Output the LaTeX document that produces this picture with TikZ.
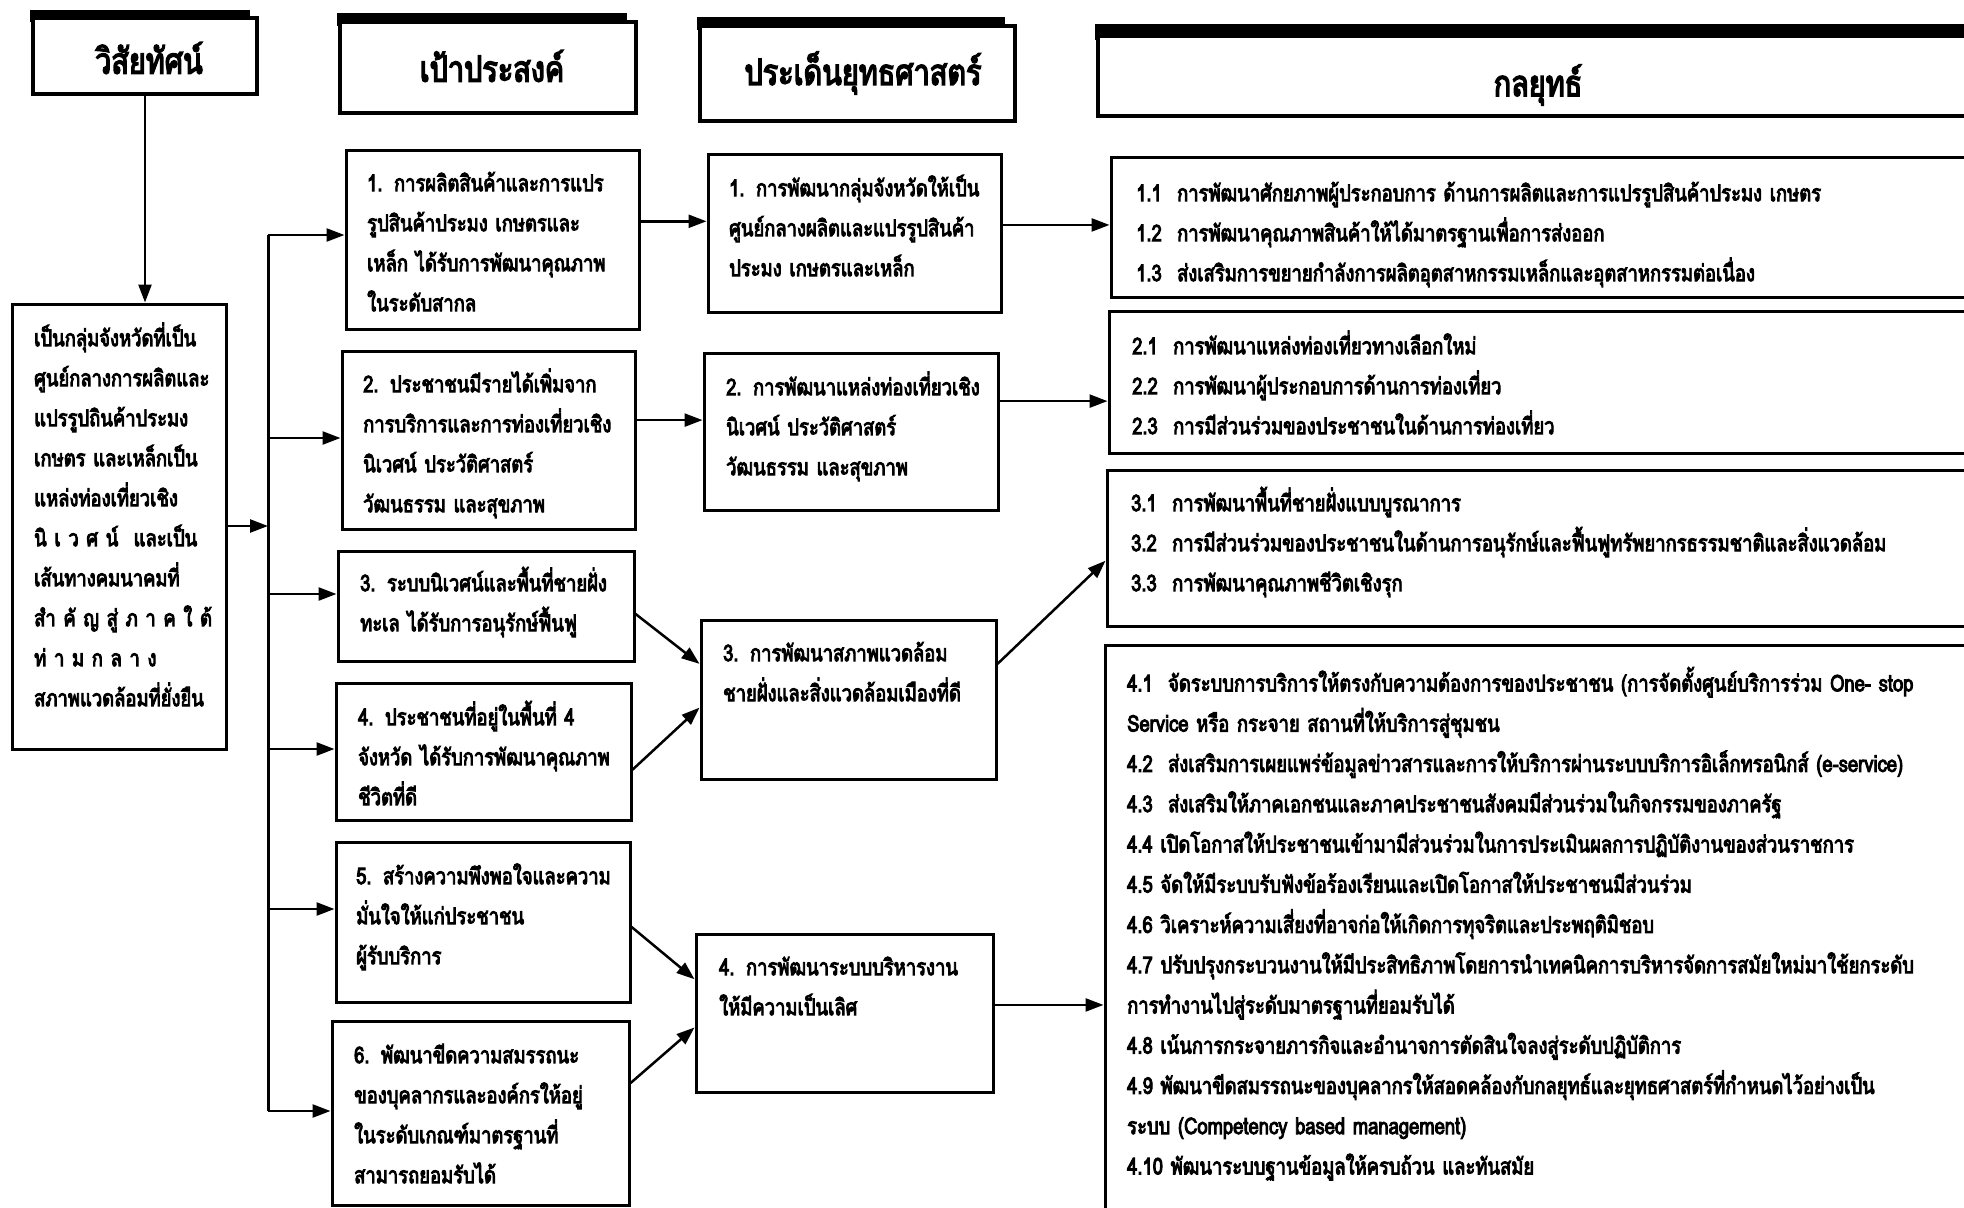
\documentclass[tikz,border=0pt]{standalone}
\usepackage{fontspec}
\usetikzlibrary{arrows.meta,fit,calc}
\newfontfamily\thaifont[Script=Thai,FakeStretch=0.80,FakeBold=4]{Loma}
\newcommand\spreadline[1]{\makebox[\linewidth][s]{#1}}
\begin{document}
\begin{tikzpicture}[x=1pt,y=-1pt,
  box/.style={draw,line width=3pt,inner sep=0pt},
  hdrbox/.style={draw,line width=3.5pt,inner sep=0pt,fill=white},
  hdrbar/.style={fill=black},
  hdrtxt/.style={font=\thaifont\fontsize{36}{40}\selectfont,inner sep=0pt},
  txt/.style={anchor=north west,inner sep=0pt,align=left,text width=900pt,
    font=\thaifont\fontsize{23}{40}\selectfont},
  link/.style={line width=2.5pt,-{Triangle[length=18pt,width=13pt]}},
]
\useasboundingbox (0,0) rectangle (1964,1207);
\clip (0,0) rectangle (1964,1207);

% ---------- column headers ----------
\fill[hdrbar] (30,10) rectangle (250,22);
\node[hdrbox,fit={(33,18) (257,94)}] (h1) {};
\node[hdrtxt] (h1t) at (149,58) {วิสัยทัศน์};

\fill[hdrbar] (337,13) rectangle (627,26);
\node[hdrbox,fit={(340,22) (636,113)}] (h2) {};
\node[hdrtxt] (h2t) at (492,66) {เป้าประสงค์};

\fill[hdrbar] (697,17) rectangle (1005,30);
\node[hdrbox,fit={(700,26) (1015,121)}] (h3) {};
\node[hdrtxt] (h3t) at (863,73) {ประเด็นยุทธศาสตร์};

\fill[hdrbar] (1095,24) rectangle (1980,40);
\node[hdrbox,fit={(1098,36) (1980,116)}] (h4) {};
\node[hdrtxt] (h4t) at (1538,85) {กลยุทธ์};

% ---------- vision ----------
\node[box,fit={(12,304) (226,749)}] (vis) {};
\node[txt,text width=176pt] (vist) at (34,318) {%
\strut เป็นกลุ่มจังหวัดที่เป็น\\
\strut ศูนย์กลางการผลิตและ\\
\strut แปรรูปถินค้าประมง\\
\strut\spreadline{เกษตร และเหล็กเป็น}\\
\strut แหล่งท่องเที่ยวเชิง\\
\strut\spreadline{นิ เ ว ศ น์ \ และเป็น}\\
\strut เส้นทางคมนาคมที่\\
\strut\spreadline{สำ คั ญ สู่ ภ า ค ใ ต้}\\
\strut\spreadline{ท่ า ม ก ล า ง}\\
\strut สภาพแวดล้อมที่ยั่งยืน};

% ---------- goals ----------
\node[box,fit={(346,150) (639,329)}] (g1) {};
\node[txt] (g1t) at (367,163) {\strut 1. การผลิตสินค้าและการแปร\\
\strut รูปสินค้าประมง เกษตรและ\\
\strut เหล็ก ได้รับการพัฒนาคุณภาพ\\
\strut ในระดับสากล};

\node[box,fit={(342,351) (635,529)}] (g2) {};
\node[txt] (g2t) at (363,364) {\strut 2. ประชาชนมีรายได้เพิ่มจาก\\
\strut การบริการและการท่องเที่ยวเชิง\\
\strut นิเวศน์ ประวัติศาสตร์\\
\strut วัฒนธรรม และสุขภาพ};

\node[box,fit={(338,551) (634,661)}] (g3) {};
\node[txt] (g3t) at (360,563) {\strut 3. ระบบนิเวศน์และพื้นที่ชายฝั่ง\\
\strut ทะเล ได้รับการอนุรักษ์ฟื้นฟู};

\node[box,fit={(336,683) (631,820)}] (g4) {};
\node[txt] (g4t) at (358,697) {\strut 4. ประชาชนที่อยู่ในพื้นที่ 4\\
\strut จังหวัด ได้รับการพัฒนาคุณภาพ\\
\strut ชีวิตที่ดี};

\node[box,fit={(336,842) (630,1002)}] (g5) {};
\node[txt] (g5t) at (356,856) {\strut 5. สร้างความพึงพอใจและความ\\
\strut มั่นใจให้แก่ประชาชน\\
\strut ผู้รับบริการ};

\node[box,fit={(332,1021) (629,1205)}] (g6) {};
\node[txt] (g6t) at (354,1035) {\strut 6. พัฒนาขีดความสมรรถนะ\\
\strut ของบุคลากรและองค์กรให้อยู่\\
\strut ในระดับเกณฑ์มาตรฐานที่\\
\strut สามารถยอมรับได้};

% ---------- strategic issues ----------
\node[box,fit={(708,154) (1001,312)}] (s1) {};
\node[txt] (s1t) at (729,168) {\strut 1. การพัฒนากลุ่มจังหวัดให้เป็น\\
\strut ศูนย์กลางผลิตและแปรรูปสินค้า\\
\strut ประมง เกษตรและเหล็ก};

\node[box,fit={(704,353) (998,510)}] (s2) {};
\node[txt] (s2t) at (726,367) {\strut 2. การพัฒนาแหล่งท่องเที่ยวเชิง\\
\strut นิเวศน์ ประวัติศาสตร์\\
\strut วัฒนธรรม และสุขภาพ};

\node[box,fit={(701,620) (996,779)}] (s3) {};
\node[txt] (s3t) at (723,633) {\strut 3. การพัฒนาสภาพแวดล้อม\\
\strut ชายฝั่งและสิ่งแวดล้อมเมืองที่ดี};

\node[box,fit={(696,934) (993,1092)}] (s4) {};
\node[txt] (s4t) at (719,947) {\strut 4. การพัฒนาระบบบริหารงาน\\
\strut ให้มีความเป็นเลิศ};

% ---------- strategies ----------
\node[box,fit={(1111,157) (1980,297)}] (t1) {};
\node[txt] (t1t) at (1136,173) {\strut 1.1\ \ การพัฒนาศักยภาพผู้ประกอบการ ด้านการผลิตและการแปรรูปสินค้าประมง เกษตร\\
\strut 1.2\ \ การพัฒนาคุณภาพสินค้าให้ได้มาตรฐานเพื่อการส่งออก\\
\strut 1.3\ \ ส่งเสริมการขยายกำลังการผลิตอุตสาหกรรมเหล็กและอุตสาหกรรมต่อเนื่อง};

\node[box,fit={(1109,311) (1980,453)}] (t2) {};
\node[txt] (t2t) at (1132,326) {\strut 2.1\ \ การพัฒนาแหล่งท่องเที่ยวทางเลือกใหม่\\
\strut 2.2\ \ การพัฒนาผู้ประกอบการด้านการท่องเที่ยว\\
\strut 2.3\ \ การมีส่วนร่วมของประชาชนในด้านการท่องเที่ยว};

\node[box,fit={(1107,470) (1980,626)}] (t3) {};
\node[txt] (t3t) at (1131,483) {\strut 3.1\ \ การพัฒนาพื้นที่ชายฝั่งแบบบูรณาการ\\
\strut 3.2\ \ การมีส่วนร่วมของประชาชนในด้านการอนุรักษ์และฟื้นฟูทรัพยากรธรรมชาติและสิ่งแวดล้อม\\
\strut 3.3\ \ การพัฒนาคุณภาพชีวิตเชิงรุก};

\node[box,fit={(1105,645) (1980,1220)}] (t4) {};
\node[txt,font=\thaifont\fontsize{23}{40.25}\selectfont] (t4t) at (1127,663) {%
\strut 4.1\ \ จัดระบบการบริการให้ตรงกับความต้องการของประชาชน (การจัดตั้งศูนย์บริการร่วม One- stop\\
\strut Service หรือ กระจาย สถานที่ให้บริการสู่ชุมชน\\
\strut 4.2\ \ ส่งเสริมการเผยแพร่ข้อมูลข่าวสารและการให้บริการผ่านระบบบริการอิเล็กทรอนิกส์ (e-service)\\
\strut 4.3\ \ ส่งเสริมให้ภาคเอกชนและภาคประชาชนสังคมมีส่วนร่วมในกิจกรรมของภาครัฐ\\
\strut 4.4 เปิดโอกาสให้ประชาชนเข้ามามีส่วนร่วมในการประเมินผลการปฏิบัติงานของส่วนราชการ\\
\strut 4.5 จัดให้มีระบบรับฟังข้อร้องเรียนและเปิดโอกาสให้ประชาชนมีส่วนร่วม\\
\strut 4.6 วิเคราะห์ความเสี่ยงที่อาจก่อให้เกิดการทุจริตและประพฤติมิชอบ\\
\strut 4.7 ปรับปรุงกระบวนงานให้มีประสิทธิภาพโดยการนำเทคนิคการบริหารจัดการสมัยใหม่มาใช้ยกระดับ\\
\strut การทำงานไปสู่ระดับมาตรฐานที่ยอมรับได้\\
\strut 4.8 เน้นการกระจายภารกิจและอำนาจการตัดสินใจลงสู่ระดับปฏิบัติการ\\
\strut 4.9 พัฒนาขีดสมรรถนะของบุคลากรให้สอดคล้องกับกลยุทธ์และยุทธศาสตร์ที่กำหนดไว้อย่างเป็น\\
\strut ระบบ (Competency based management)\\
\strut 4.10 พัฒนาระบบฐานข้อมูลให้ครบถ้วน และทันสมัย};

% ---------- connectors ----------
\draw[link] (h1.south) -- (h1.south |- vis.north);

\coordinate (busin) at (268,526);
\coordinate (bustop) at (268,235);
\coordinate (busbot) at (268,1111);
\draw[link] (vis.east |- busin) -- (busin);
\draw[line width=3pt] (bustop) -- (busbot);

\foreach \g/\yy in {g1/235,g2/438,g3/594,g4/749,g5/909,g6/1111}{
  \coordinate (br) at (268,\yy);
  \draw[link] (br) -- (br -| \g.west);
}

% goals to strategic issues
\coordinate (o1) at ($(g1.north east)!0.40!(g1.south east)$);
\coordinate (o2) at ($(g2.north east)!0.39!(g2.south east)$);
\draw[link] (o1) -- (o1 -| s1.west);
\draw[link] (o2) -- (o2 -| s2.west);
\draw[link] ($(g3.north east)!0.57!(g3.south east)$) -- ($(s3.north west)!0.28!(s3.south west)$);
\draw[link] ($(g4.north east)!0.63!(g4.south east)$) -- ($(s3.north west)!0.55!(s3.south west)$);
\draw[link] ($(g5.north east)!0.53!(g5.south east)$) -- ($(s4.north west)!0.29!(s4.south west)$);
\draw[link] ($(g6.north east)!0.34!(g6.south east)$) -- ($(s4.north west)!0.59!(s4.south west)$);

% strategic issues to strategies
\coordinate (p1) at ($(s1.north east)!0.45!(s1.south east)$);
\coordinate (p2) at ($(s2.north east)!0.31!(s2.south east)$);
\coordinate (p4) at ($(s4.north east)!0.45!(s4.south east)$);
\draw[link] (p1) -- (p1 -| t1.west);
\draw[link] (p2) -- (p2 -| t2.west);
\draw[link] ($(s3.north east)!0.28!(s3.south east)$) -- ($(t3.north west)!0.58!(t3.south west)$);
\draw[link] (p4) -- (p4 -| t4.west);
\end{tikzpicture}
\end{document}
